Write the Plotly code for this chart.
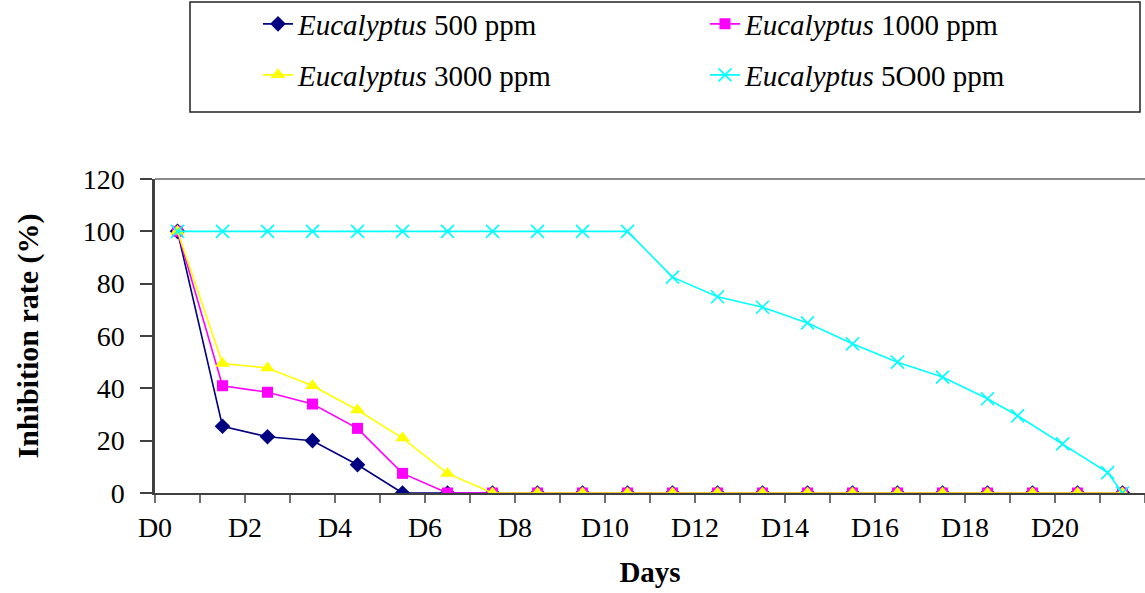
import plotly.graph_objects as go

# ---- data ----
day_index = list(range(22))                      # D0 .. D21
tick_boundaries = [k - 0.5 for k in range(23)]   # category boundaries
tick_labels = [f"D{k}" if (k % 2 == 0 and k <= 20) else "" for k in range(23)]

euc_500 = [100, 25.5, 21.5, 20, 10.8, 0, 0, 0, 0, 0, 0, 0, 0, 0, 0, 0, 0, 0, 0, 0, 0, 0]
euc_1000 = [100, 41, 38.5, 34, 24.7, 7.5, 0, 0, 0, 0, 0, 0, 0, 0, 0, 0, 0, 0, 0, 0, 0, 0]
euc_3000 = [100, 49.5, 47.8, 41, 31.7, 21, 7.5, 0, 0, 0, 0, 0, 0, 0, 0, 0, 0, 0, 0, 0, 0, 0]
euc_5000_x = list(range(19)) + [18.67, 19.67, 20.67, 21]
euc_5000 = [100, 100, 100, 100, 100, 100, 100, 100, 100, 100, 100,
            82.5, 75, 71, 65, 57, 50, 44.3, 36, 29.5, 18.8, 7.8, 0]

names = ["<i>Eucalyptus</i> 500 ppm", "<i>Eucalyptus</i> 1000 ppm",
         "<i>Eucalyptus</i> 3000 ppm", "<i>Eucalyptus</i> 5O00 ppm"]

SERIF = "Liberation Serif"

fig = go.Figure()
fig.add_trace(go.Scatter(x=day_index, y=euc_500, name=names[0], mode="lines+markers",
                         line=dict(color="#000080", width=1.6),
                         marker=dict(symbol="diamond", size=12, color="#000080"),
                         legend="legend"))
fig.add_trace(go.Scatter(x=day_index, y=euc_1000, name=names[1], mode="lines+markers",
                         line=dict(color="#FF00FF", width=1.6),
                         marker=dict(symbol="square", size=11, color="#FF00FF"),
                         legend="legend2"))
fig.add_trace(go.Scatter(x=day_index, y=euc_3000, name=names[2], mode="lines+markers",
                         line=dict(color="#FFFF00", width=1.6),
                         marker=dict(symbol="triangle-up", size=13, color="#FFFF00"),
                         legend="legend3"))
fig.add_trace(go.Scatter(x=euc_5000_x, y=euc_5000, name=names[3], mode="lines+markers",
                         line=dict(color="#00FFFF", width=1.6),
                         marker=dict(symbol="x-thin", size=13,
                                     line=dict(color="#00FFFF", width=1.6)),
                         legend="legend4"))

PLOT_L, PLOT_R, PLOT_T, PLOT_B = 155, 1145, 179, 493
W, H = 1145, 593
pw, ph = PLOT_R - PLOT_L, PLOT_B - PLOT_T

def px_x(x):
    return (x - PLOT_L) / pw

def px_y(y):
    return (PLOT_B - y) / ph

legend_common = dict(orientation="h", font=dict(family=SERIF, size=29, color="black"),
                     bgcolor="rgba(0,0,0,0)", borderwidth=0,
                     xanchor="left", yanchor="middle", itemwidth=30)

fig.update_layout(
    width=W, height=H,
    margin=dict(l=PLOT_L, r=W - PLOT_R, t=PLOT_T, b=H - PLOT_B, autoexpand=False),
    paper_bgcolor="white", plot_bgcolor="white",
    font=dict(family=SERIF, color="black"),
    showlegend=True,
    legend=dict(x=px_x(258), y=px_y(24), **legend_common),
    legend2=dict(x=px_x(705), y=px_y(24), **legend_common),
    legend3=dict(x=px_x(258), y=px_y(75), **legend_common),
    legend4=dict(x=px_x(705), y=px_y(75), **legend_common),
    xaxis=dict(range=[-0.5, 21.5], tickmode="array", tickvals=tick_boundaries,
               ticktext=tick_labels, ticks="outside", ticklen=8, tickwidth=2,
               tickcolor="#707070", showline=True, linecolor="#404040", linewidth=2,
               showgrid=False, zeroline=False,
               tickfont=dict(family=SERIF, size=28, color="black"),
               title=dict(text="<b>Days</b>", font=dict(family=SERIF, size=29, color="black"),
                          standoff=20)),
    yaxis=dict(range=[0, 120], tickmode="array", tickvals=[0, 20, 40, 60, 80, 100, 120],
               ticks="outside", ticklen=12, tickwidth=2, tickcolor="#404040",
               showline=True, linecolor="#404040", linewidth=2.5,
               showgrid=False, zeroline=False, ticklabelstandoff=10,
               tickfont=dict(family=SERIF, size=28, color="black"),
               title=dict(text="<b>Inhibition rate (%)</b>",
                          font=dict(family=SERIF, size=30, color="black"), standoff=36)),
    shapes=[
        dict(type="line", xref="paper", yref="paper", x0=0, x1=1, y0=1, y1=1,
             line=dict(color="#8a8a8a", width=2)),
        dict(type="rect", xref="paper", yref="paper",
             x0=px_x(190), x1=px_x(1140), y0=px_y(112), y1=px_y(2),
             line=dict(color="#222222", width=1.5)),
    ],
)

fig.write_html("out.html")
